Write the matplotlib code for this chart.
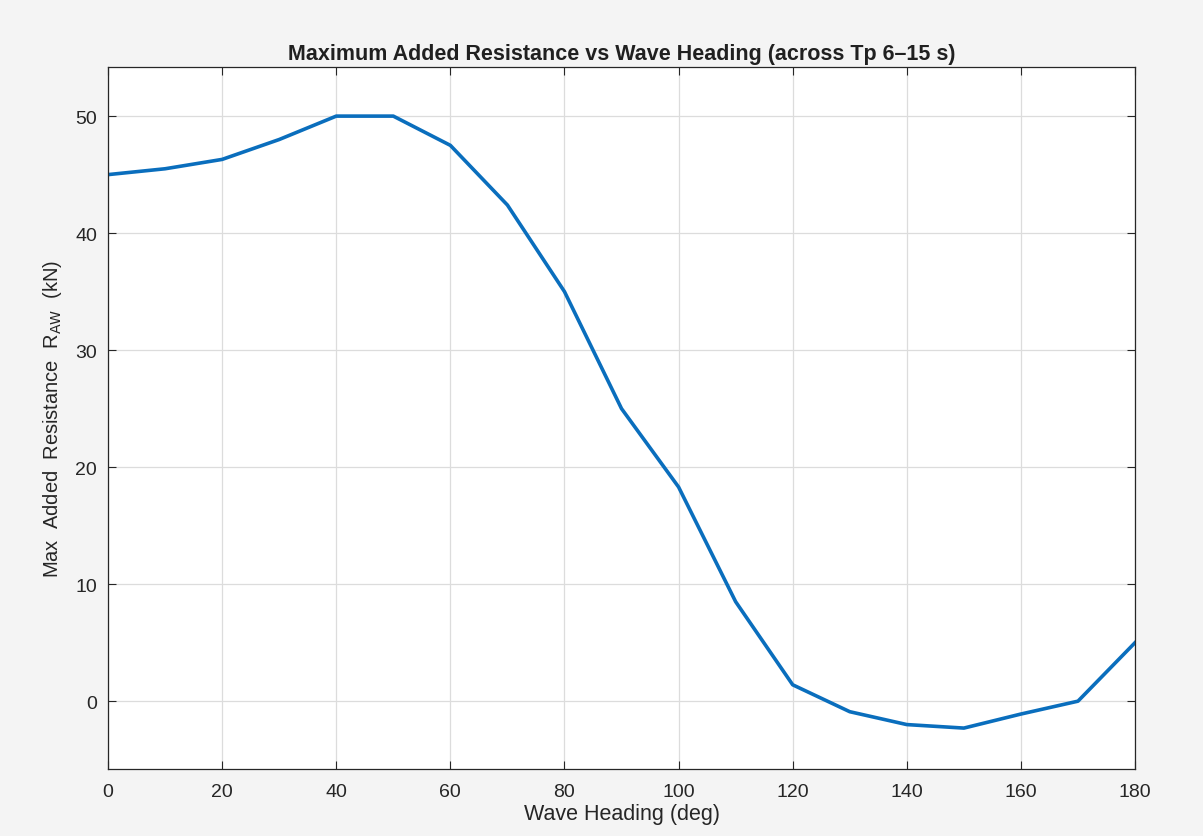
import numpy as np
from matplotlib import pyplot as plt

# wave heading (deg) and max added resistance (kN)
heading = [0, 10, 20, 30, 40, 50, 60, 70, 80, 90, 100, 110, 120, 130, 140, 150, 160, 170, 180]
raw_max = [45.0, 45.5, 46.3, 48.0, 50.0, 50.0, 47.5, 42.4, 35.0, 25.0, 18.3, 8.5, 1.4,
           -0.9, -2.0, -2.3, -1.1, 0.0, 5.0]

x_ticks = [0, 20, 40, 60, 80, 100, 120, 140, 160, 180]
y_ticks = [0, 10, 20, 30, 40, 50]

plt.rcParams["font.family"] = ["Liberation Sans", "DejaVu Sans"]

fig = plt.figure(figsize=(12.03, 8.37), dpi=100, facecolor="#f4f4f4")
ax = fig.add_axes([0.0898, 0.080, 0.8537, 0.8388])
ax.set_facecolor("white")

ax.plot(heading, raw_max, color="#0a6ebd", lw=2.6)

ax.set_xlim(0, 180)
ax.set_ylim(-5.8, 54.2)
ax.set_xticks(x_ticks)
ax.set_yticks(y_ticks)
ax.grid(True, color="#dcdcdc", lw=0.9)
ax.set_axisbelow(True)
ax.tick_params(direction="in", length=6, labelsize=14, colors="#262626",
               top=True, right=True, labeltop=False, labelright=False)
ax.tick_params(axis="x", pad=10)
ax.tick_params(axis="y", pad=8)
for s in ax.spines.values():
    s.set_color("#262626")
    s.set_linewidth(0.9)

ax.set_title("Maximum Added Resistance vs Wave Heading (across Tp 6\u201315 s)",
             fontsize=15.5, fontweight="bold", color="#202020", pad=6)
ax.set_xlabel("Wave Heading (deg)", fontsize=15.5, color="#262626", labelpad=2)
ax.set_ylabel("Max  Added  Resistance  R$_{\\mathrm{AW}}$  (kN)", fontsize=14.5,
              color="#262626", labelpad=8)

fig.savefig("out.png", dpi=100, facecolor=fig.get_facecolor())
